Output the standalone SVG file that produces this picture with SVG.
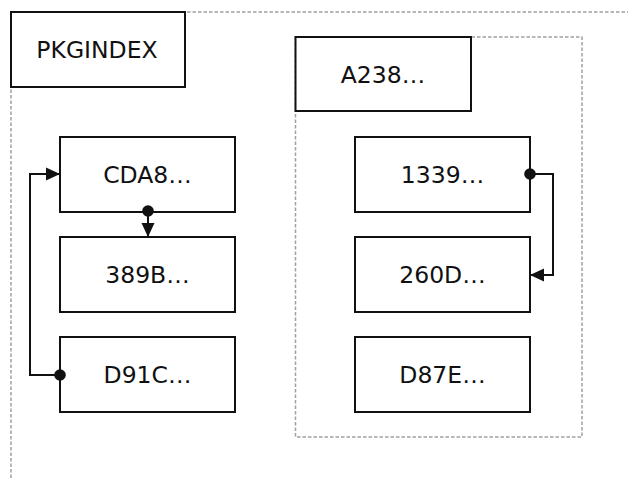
<svg xmlns="http://www.w3.org/2000/svg" width="628" height="479" viewBox="0 0 628 479">
<style>
.container{fill:none;stroke:#a0a0a0;stroke-width:1.5;stroke-dasharray:3.5,2}
.box{fill:#fff;stroke:#111;stroke-width:2}
.lbl{font-family:"DejaVu Sans",Verdana,sans-serif;font-size:23.5px;fill:#111;text-anchor:middle}
.edge{fill:none;stroke:#111;stroke-width:2}
</style>
<defs>
<marker id="arrow" markerUnits="userSpaceOnUse" markerWidth="16" markerHeight="16" viewBox="0 0 16 16" refX="15" refY="8" orient="auto">
<path d="M1,1.5 L15,8 L1,14.5 Z" fill="#111"/>
</marker>
<marker id="dot" markerUnits="userSpaceOnUse" markerWidth="14" markerHeight="14" viewBox="0 0 14 14" refX="7" refY="7" orient="auto">
<circle cx="7" cy="7" r="5.8" fill="#111"/>
</marker>
</defs>
<g id="outer-container">
<rect class="container" x="11" y="12" width="700" height="600"/>
</g>
<g id="a238-container">
<rect class="container" x="295.5" y="37" width="286.5" height="400"/>
</g>
<g id="PKGINDEX">
<rect class="box" x="11" y="12" width="174" height="75"/>
<text class="lbl" x="97" y="58">PKGINDEX</text>
</g>
<g id="A238">
<rect class="box" x="295.5" y="37" width="175.5" height="74"/>
<text class="lbl" x="383" y="83">A238…</text>
</g>
<g id="CDA8">
<rect class="box" x="60" y="137" width="175" height="75"/>
<text class="lbl" x="147.5" y="183">CDA8…</text>
</g>
<g id="389B">
<rect class="box" x="60" y="237" width="175" height="75"/>
<text class="lbl" x="147.5" y="283">389B…</text>
</g>
<g id="D91C">
<rect class="box" x="60" y="337" width="175" height="75"/>
<text class="lbl" x="147.5" y="383">D91C…</text>
</g>
<g id="1339">
<rect class="box" x="355" y="137" width="175" height="75"/>
<text class="lbl" x="442.5" y="183">1339…</text>
</g>
<g id="260D">
<rect class="box" x="355" y="237" width="175" height="75"/>
<text class="lbl" x="442.5" y="283">260D…</text>
</g>
<g id="D87E">
<rect class="box" x="355" y="337" width="175" height="75"/>
<text class="lbl" x="442.5" y="383">D87E…</text>
</g>
<g id="connectors">
<path class="edge" d="M148,211 L148,237" marker-start="url(#dot)" marker-end="url(#arrow)"/>
<path class="edge" d="M60,375 L30,375 L30,174 L60,174" marker-start="url(#dot)" marker-end="url(#arrow)"/>
<path class="edge" d="M530,174 L553,174 L553,275 L530,275" marker-start="url(#dot)" marker-end="url(#arrow)"/>
</g>
</svg>
